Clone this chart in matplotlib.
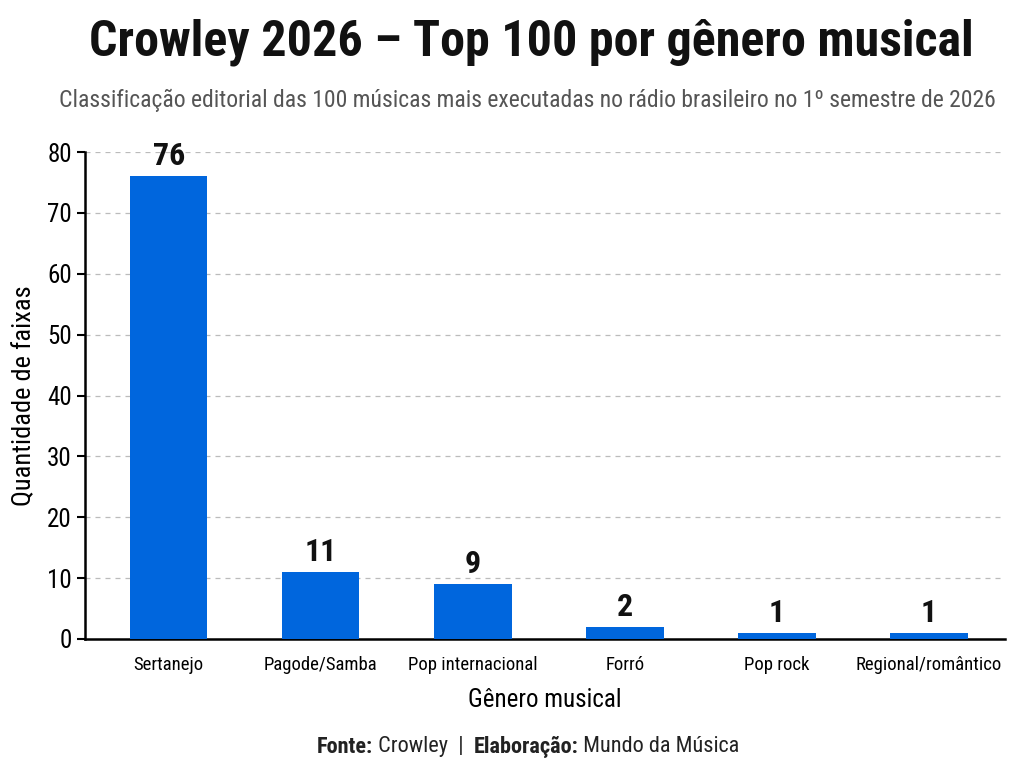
import matplotlib
matplotlib.use("Agg")
import matplotlib.pyplot as plt
from matplotlib import font_manager

# data
generos = ["Sertanejo", "Pagode/Samba", "Pop internacional", "Forró", "Pop rock", "Regional/romântico"]
faixas = [76, 11, 9, 2, 1, 1]

names = set(f.name for f in font_manager.fontManager.ttflist)
cond = "Roboto Condensed" if "Roboto Condensed" in names else "Roboto"
plt.rcParams['font.family'] = [cond, 'DejaVu Sans']

fig = plt.figure(figsize=(10.24, 7.7), dpi=100)
ax = fig.add_axes([85/1024, 1 - 639/770, 920/1024, 487/770])

x = list(range(len(generos)))
ax.bar(x, faixas, width=0.51, color="#0066dd", zorder=3)
for xi, v in zip(x, faixas):
    ax.text(xi, v + 0.8, str(v), ha="center", va="bottom", fontsize=23, fontweight="bold", color="#111111")

ax.set_xlim(-0.55, 5.5)
ax.set_ylim(0, 80)
ax.set_yticks(range(0, 81, 10))
ax.set_xticks(x)
ax.set_xticklabels(generos, fontsize=13.5)
ax.tick_params(axis="y", labelsize=18, length=6, width=1.5)
ax.tick_params(axis="x", length=0, pad=12)
ax.grid(axis="y", linestyle=(0, (4, 4)), color="#bbbbbb", linewidth=0.9, zorder=0)
for s in ["top", "right"]:
    ax.spines[s].set_visible(False)
ax.spines["left"].set_linewidth(1.8)
ax.spines["bottom"].set_linewidth(1.8)

ax.set_ylabel("Quantidade de faixas", fontsize=19, labelpad=8)
ax.set_xlabel("Gênero musical", fontsize=18, labelpad=10)

fig.text(0.519, 0.945, "Crowley 2026 – Top 100 por gênero musical", ha="center", va="center",
         fontsize=36, fontweight="bold", color="#111111")
fig.text(0.515, 0.870, "Classificação editorial das 100 músicas mais executadas no rádio brasileiro no 1º semestre de 2026",
         ha="center", va="center", fontsize=17, color="#555555")

# footer: bold and regular pieces laid out side by side
partes = [("Fonte:", "bold"), (" Crowley  |  ", "normal"), ("Elaboração:", "bold"), (" Mundo da Música", "normal")]
fig.canvas.draw()
r = fig.canvas.get_renderer()
textos = []
for s, w in partes:
    t = fig.text(0, 0.030, s, ha="left", va="center", fontsize=16, fontweight=w, color="#222222")
    textos.append(t)
larguras = [t.get_window_extent(r).width for t in textos]
x0 = 528 - sum(larguras) / 2
for t, w in zip(textos, larguras):
    t.set_x(x0 / 1024)
    x0 += w

fig.savefig("out.png", dpi=100, facecolor="white")
